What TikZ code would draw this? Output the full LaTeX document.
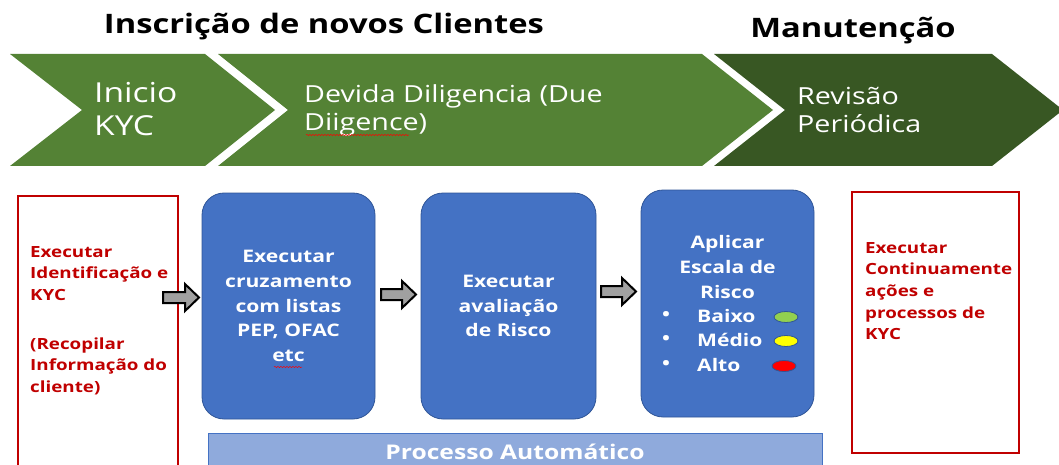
\documentclass[tikz,border=0pt]{standalone}
\usepackage{fontspec}
\setmainfont{Open Sans}[FakeStretch=1.22]
\usetikzlibrary{shapes.geometric,decorations.pathmorphing}
\definecolor{lgreen}{HTML}{548235}
\definecolor{dgreen}{HTML}{385723}
\definecolor{kred}{HTML}{C00000}
\definecolor{bfill}{HTML}{4472C4}
\definecolor{bline}{HTML}{2F5597}
\definecolor{barfill}{HTML}{8FAADC}
\definecolor{agray}{HTML}{A0A0A0}
\begin{document}
\begin{tikzpicture}[x=1pt,y=-1pt,
  chevtext/.style={text=white,anchor=west,align=left,inner sep=0pt},
  redbox/.style={draw=kred,line width=1.2pt},
  redtext/.style={text=kred,font=\fontsize{15.4}{21.7}\selectfont\bfseries,align=left,anchor=north west,inner sep=0pt},
  bluebox/.style={draw=bline,line width=0.8pt,fill=bfill,rounded corners=22pt},
  bluetext/.style={text=white,font=\fontsize{17.3}{24.6}\selectfont\bfseries,align=center,inner sep=0pt},
  blockarrow/.style={draw=black,line width=2pt,fill=agray,line join=miter},
  dot/.style={ellipse,draw=bline,line width=0.8pt,minimum width=24pt,minimum height=11pt,inner sep=0pt},
  title/.style={font=\fontsize{26.8}{30}\selectfont\bfseries,text=black,inner sep=0pt},
  squig/.style={draw=red,line width=0.5pt,decorate,decoration={snake,amplitude=0.6pt,segment length=3pt}}
]
\clip (0,0) rectangle (1059,465);
% titles
\node[title] (t1) at (324,27) {Inscrição de novos Clientes};
\node[title] (t2) at (853,31) {Manutenção};
% chevrons
\fill[lgreen] (10,54) -- (205,54) -- (275,110) -- (205,166) -- (10,166) -- (82,110) -- cycle;
\fill[lgreen] (218,54) -- (702,54) -- (773,110) -- (702,166) -- (218,166) -- (288,110) -- cycle;
\fill[dgreen] (714,54) -- (992,54) -- (1063,110) -- (992,166) -- (714,166) -- (785,110) -- cycle;
\node[chevtext,font=\fontsize{27.5}{33}\selectfont] (c1) at (94,109) {Inicio\\KYC};
\node[chevtext,font=\fontsize{23.5}{28}\selectfont] (c2) at (304,110) {Devida Diligencia (Due\\Diigence)};
\node[chevtext,font=\fontsize{23.5}{28}\selectfont] (c3) at (797,110) {Revisão\\Periódica};
\draw[squig] (306,135) -- (409,135);
% red boxes
\draw[redbox] (18,470) -- (18,196) -- (178,196) -- (178,470);
\node[redtext] (lt) at (30,246) {Executar\\Identificação e\\KYC\\[27pt](Recopilar\\Informação do\\cliente)};
\node[redbox,minimum width=167pt,minimum height=261pt,inner sep=0pt] (rb) at (935.5,322.5) {};
\node[redtext] (rt) at (865,242) {Executar\\Continuamente\\ações e\\processos de\\KYC};
% blue boxes
\path[bluebox] (202,193) rectangle (375,419);
\node[bluetext] (b1) at (288.5,306) {Executar\\cruzamento\\com listas\\PEP, OFAC\\etc};
\draw[squig] (274,367) -- (302,367);
\path[bluebox] (421,193) rectangle (596,419);
\node[bluetext] (b2) at (508.5,306) {Executar\\avaliação\\de Risco};
\path[bluebox] (641,190) rectangle (814,417);
\node[bluetext] (b3) at (727.5,267) {Aplicar\\Escala de\\Risco};
\node[bluetext,anchor=center] (bu1) at (666,316) {•};
\node[bluetext,anchor=center] (bu2) at (666,340) {•};
\node[bluetext,anchor=center] (bu3) at (666,365) {•};
\node[bluetext,anchor=west] (l1) at (697,316) {Baixo};
\node[bluetext,anchor=west] (l2) at (697,340) {Médio};
\node[bluetext,anchor=west] (l3) at (697,365) {Alto};
\node[dot,fill={rgb,255:red,146;green,208;blue,80}] (d1) at (786,317) {};
\node[dot,fill={rgb,255:red,255;green,255;blue,0}] (d2) at (786,341) {};
\node[dot,fill={rgb,255:red,255;green,0;blue,0}] (d3) at (784,366) {};
% block arrows
\draw[blockarrow] (163,292) -- (185,292) -- (185,284) -- (199,297.5) -- (185,311) -- (185,303) -- (163,303) -- cycle;
\draw[blockarrow] (381,289) -- (402,289) -- (402,281) -- (416,294.5) -- (402,308) -- (402,300) -- (381,300) -- cycle;
\draw[blockarrow] (601,286) -- (622,286) -- (622,278) -- (636,291.5) -- (622,305) -- (622,297) -- (601,297) -- cycle;
% bottom bar
\draw[fill=barfill,draw=bfill,line width=1pt] (208,433) rectangle (822,475);
\node[text=white,font=\fontsize{20.2}{22}\selectfont\bfseries,inner sep=0pt] (pa) at (515,452) {Processo Automático};
\end{tikzpicture}
\end{document}
